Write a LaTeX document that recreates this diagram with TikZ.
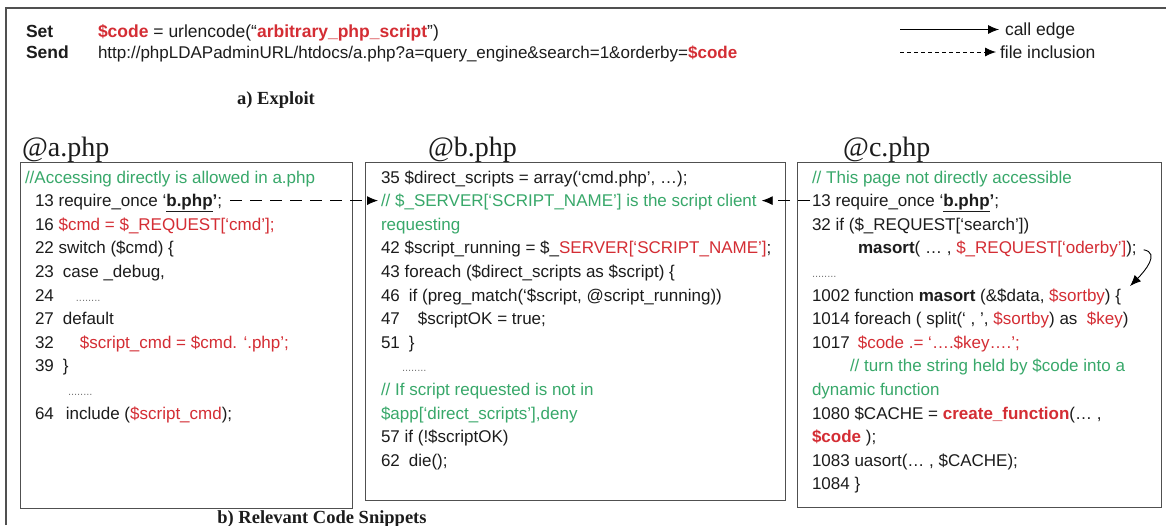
\documentclass[tikz,border=0pt]{standalone}
\usepackage{fontspec}
\setmainfont{Liberation Sans}
\newfontfamily\serifhd{Liberation Serif}
\usetikzlibrary{arrows.meta,calc}
\definecolor{codered}{RGB}{212,45,52}
\definecolor{cmtgreen}{RGB}{56,168,106}
\definecolor{ink}{RGB}{28,28,28}
\definecolor{framegray}{RGB}{80,80,80}
\definecolor{dotgray}{RGB}{120,120,120}
\newcommand{\rd}[1]{\textcolor{codered}{#1}}
\newcommand{\gr}[1]{\textcolor{cmtgreen}{#1}}
\newcommand{\codesz}{\fontsize{17}{20}\selectfont}
\newcommand{\hdsz}{\fontsize{17.5}{20}\selectfont}
\newcommand{\urlsz}{\fontsize{17}{20}\selectfont}
\newcommand{\dotsrow}{\textcolor{dotgray}{\fontsize{11}{11}\selectfont ........}}
\begin{document}
\begin{tikzpicture}[x=1pt,y=-1pt,
  ln/.style={anchor=base west, inner sep=0pt, outer sep=0pt, text=ink, font=\codesz},
  panel/.style={draw=framegray, line width=1.2pt, anchor=north west, inner sep=0pt},
  hd/.style={anchor=base west, inner sep=0pt, text=ink, font=\serifhd\fontsize{28}{28}\selectfont},
  captxt/.style={anchor=base, inner sep=0pt, text=ink, font=\serifhd\bfseries\fontsize{18.5}{18.5}\selectfont},
  incl/.style={dash pattern=on 12pt off 8pt, line width=0.9pt, -{Latex[length=11pt,width=9pt]}},
  call/.style={line width=0.9pt, -{Latex[length=11pt,width=9pt]}},
]
\useasboundingbox (0,0) rectangle (1166,525);
\fill[white] (0,0) rectangle (1166,525);

% outer frame (top and left rules)
\draw[framegray, line width=2pt] (6,525) -- (6,8) -- (1166,8);

% exploit request
\node[ln, font=\hdsz\bfseries] (setlbl) at (26,37.3) {Set};
\node[ln, font=\hdsz] (setval) at (98,37.3) {\rd{\textbf{\$code}} = urlencode(“\rd{\textbf{arbitrary\_php\_script}}”)};
\node[ln, font=\hdsz\bfseries] (sendlbl) at (26,58.3) {Send};
\node[ln, font=\urlsz] (sendval) at (98,58.3) {http://phpLDAPadminURL/htdocs/a.php?a=query\_engine\&search=1\&orderby=\rd{\textbf{\$code}}};

% legend
\node[ln, font=\hdsz] (lgcall) at (1005,35.5) {call edge};
\node[ln, font=\hdsz] (lgincl) at (1000,58) {file inclusion};
\coordinate (lgcs) at (900,29.5);
\coordinate (lgis) at (900,52);
\draw[call] (lgcs) -- ($(lgcall.base west)+(-6,-6)$);
\draw[line width=0.9pt, dash pattern=on 4pt off 3pt, -{Latex[length=11pt,width=9pt]}] (lgis) -- ($(lgincl.base west)+(-4,-6)$);

\node[captxt] (capa) at (276,104) {a) Exploit};

% file headers
\node[hd] (hda) at (22,156) {@a.php};
\node[hd] (hdb) at (428,156) {@b.php};
\node[hd] (hdc) at (843,156) {@c.php};

% code panels
\node[panel, minimum width=332pt, minimum height=346pt] (boxa) at (20,162) {};
\node[panel, minimum width=420pt, minimum height=338pt] (boxb) at (365,162) {};
\node[panel, minimum width=364pt, minimum height=345pt] (boxc) at (797,162) {};

% a.php
\node[ln] (a1)  at (25,183)   {\gr{//Accessing directly is allowed in a.php}};
\node[ln] (a13) at (35,206.6) {13 require\_once ‘\underline{\textbf{b.php}}\textbf{’};};
\node[ln] (a16) at (35,230.2) {16 \rd{\$cmd = \$\_REQUEST[‘cmd’];}};
\node[ln] (a22) at (35,253.8) {22 switch (\$cmd) \{};
\node[ln] (a23) at (35,277.4) {23\hspace{9pt}case \_debug,};
\node[ln] (a24) at (35,301)   {24\hspace{22pt}\dotsrow};
\node[ln] (a27) at (35,324.6) {27\hspace{9pt}default};
\node[ln] (a32) at (35,348.2) {32\hspace{26pt}\rd{\$script\_cmd = \$cmd. ‘.php’;}};
\node[ln] (a39) at (35,371.8) {39\hspace{9pt}\}};
\node[ln] (adt) at (68,395.4) {\dotsrow};
\node[ln] (a64) at (35,419)   {64\hspace{12pt}include (\rd{\$script\_cmd});};

% b.php
\node[ln] (b35) at (381,183)   {35 \$direct\_scripts = array(‘cmd.php’, …);};
\node[ln] (b2)  at (381,206.6) {\gr{// \$\_SERVER[‘SCRIPT\_NAME’] is the script client}};
\node[ln] (b3)  at (381,230.2) {\gr{requesting}};
\node[ln] (b42) at (381,253.8) {42 \$script\_running = \$\_\rd{SERVER[‘SCRIPT\_NAME’]};};
\node[ln] (b43) at (381,277.4) {43 foreach (\$direct\_scripts as \$script) \{};
\node[ln] (b46) at (381,301)   {46\hspace{9pt}if (preg\_match(‘\$script, @script\_running))};
\node[ln] (b47) at (381,324.6) {47\hspace{18pt}\$scriptOK = true;};
\node[ln] (b51) at (381,348.2) {51\hspace{9pt}\}};
\node[ln] (bdt) at (402,371.8) {\dotsrow};
\node[ln] (b4)  at (381,395.4) {\gr{// If script requested is not in}};
\node[ln] (b5)  at (381,419)   {\gr{\$app[‘direct\_scripts’],deny}};
\node[ln] (b57) at (381,442.6) {57 if (!\$scriptOK)};
\node[ln] (b62) at (381,466.2) {62\hspace{9pt}die();};

% c.php
\node[ln] (c1)    at (812,183)   {\gr{// This page not directly accessible}};
\node[ln] (c13)   at (812,206.6) {13 require\_once ‘\underline{\textbf{b.php}}\textbf{’};};
\node[ln] (c32)   at (812,230.2) {32 if (\$\_REQUEST[‘search’])};
\node[ln] (cmas)  at (858,253.8) {\textbf{masort}( … , \rd{\$\_REQUEST[‘oderby’]});};
\node[ln] (cdt)   at (812,277.4) {\dotsrow};
\node[ln] (c1002) at (812,301)   {1002 function \textbf{masort} (\&\$data, \rd{\$sortby}) \{};
\node[ln] (c1014) at (812,324.6) {1014 foreach ( split(‘ , ’, \rd{\$sortby}) as \ \rd{\$key})};
\node[ln] (c1017) at (812,348.2) {1017\hspace{8pt}\rd{\$code .= ‘….\$key….’;}};
\node[ln] (cturn) at (850,371.8) {\gr{// turn the string held by \$code into a}};
\node[ln] (cdyn)  at (812,395.4) {\gr{dynamic function}};
\node[ln] (c1080) at (812,419)   {1080 \$CACHE = \rd{\textbf{create\_function}}(… ,};
\node[ln] (ccode) at (812,442.6) {\rd{\textbf{\$code}} );};
\node[ln] (c1083) at (812,466.2) {1083 uasort(… , \$CACHE);};
\node[ln] (c1084) at (812,489.8) {1084 \}};

% connectors
\draw[incl] ($(a13.base east)+(8,-6)$) -- ($(b2.base west)+(-3,-6)$);
\draw[incl] ($(c13.base west)+(-2,-6)$) -- ($(b2.base east)+(5,-6)$);
\draw[call] ($(cmas.base east)+(7,-4)$) .. controls +(17,3) and +(14,-14) .. ($(c1002.base east)+(9,-15)$);

\node[captxt] (capb) at (322,523) {b) Relevant Code Snippets};
\end{tikzpicture}
\end{document}
